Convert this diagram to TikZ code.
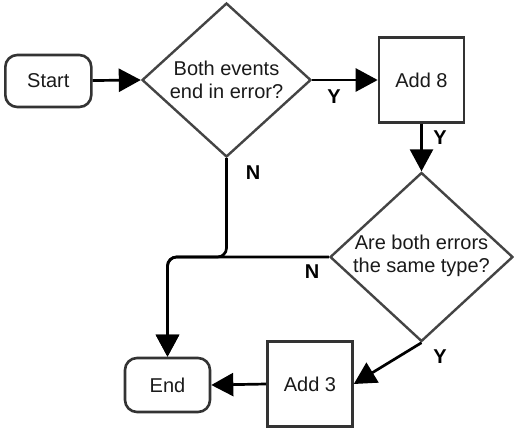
\documentclass[tikz,border=0pt]{standalone}
\usepackage{fontspec}
\setmainfont{Liberation Sans}
\usetikzlibrary{shapes.geometric,arrows.meta}
\definecolor{bordc}{HTML}{333333}
\definecolor{diac}{HTML}{444444}
\definecolor{txtc}{HTML}{1A1A1A}
\tikzset{
  txt/.style={font=\fontsize{20}{22.5}\selectfont, text=txtc, align=center, inner sep=0pt},
  term/.style={draw=bordc, line width=2.6pt, rounded corners=12pt, fill=white, inner sep=0pt, txt},
  procbox/.style={draw=bordc, line width=2.6pt, fill=white, inner sep=0pt, minimum width=85pt, minimum height=85pt, txt},
  decis/.style={diamond, draw=diac, line width=2.4pt, fill=white, inner sep=0pt},
  conn/.style={draw=black, line width=2.7pt, -{Triangle[length=22pt,width=23pt]}},
  lab/.style={font=\fontsize{20}{22}\selectfont\bfseries, text=black, inner sep=0pt}
}
\begin{document}
\begin{tikzpicture}[x=1pt,y=-1pt]
\useasboundingbox (0,0) rectangle (514,429);
\fill[white] (0,0) rectangle (514,429);
\node[term, minimum width=86pt, minimum height=52pt] (start) at (48.3,81) {Start};
\node[decis, minimum width=169pt, minimum height=154pt] (d1) at (226.5,80) {};
\node[txt] (d1t) at (226.5,80) {Both events\\end in error?};
\node[procbox] (add8) at (421.5,80) {Add 8};
\node[decis, minimum width=183pt, minimum height=169pt] (d2) at (421.5,257) {};
\node[txt] (d2t) at (421.5,256) {Are both errors\\the same type?};
\node[procbox] (add3) at (310,384) {Add 3};
\node[term, minimum width=85pt, minimum height=54pt] (end) at (167.5,385) {End};

\draw[conn] (start) -- (d1.west);
\draw[conn] (d1.east) -- (add8.west);
\draw[conn] (add8.south) -- (d2.north);
\draw[conn] (d2.south) -- (add3.east);
\draw[conn] (add3.west) -- (end.east);
\draw[conn, rounded corners=9pt] (d1.south) -- (d1.south |- d2.west) -| (end.north);
\draw[conn, rounded corners=9pt] (d2.west) -| (end.north);

\node[lab] (ly1) at (334,97) {Y};
\node[lab] (ly2) at (440,138) {Y};
\node[lab] (ln1) at (253,173) {N};
\node[lab] (ln2) at (312,272) {N};
\node[lab] (ly3) at (440,357) {Y};
\end{tikzpicture}
\end{document}
